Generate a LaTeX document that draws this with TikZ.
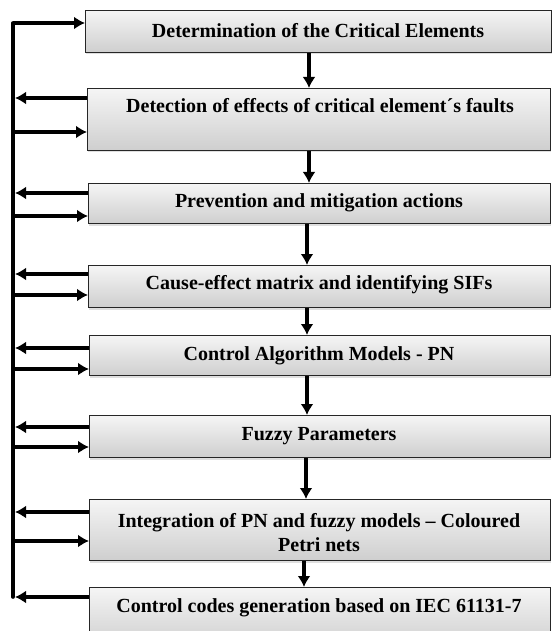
\documentclass[tikz,border=0pt]{standalone}
\usepackage{fontspec}
\setmainfont{Liberation Serif}
\usetikzlibrary{arrows.meta,shadows,calc}

\begin{document}
\begin{tikzpicture}[x=1pt,y=-1pt,
  stage/.style={draw=black!85, line width=1pt, anchor=north west,
    top color=gray!8, bottom color=gray!38, minimum width=#1,
    drop shadow={shadow xshift=0.5pt, shadow yshift=-2pt, opacity=0.25}},
  stage/.default=463pt,
  lbl/.style={font=\fontsize{20}{24}\selectfont\bfseries, align=center, inner sep=0pt},
  flow/.style={line width=3.4pt, -{Latex[length=11pt,width=13pt]}},
  bus/.style={line width=3.6pt, line join=round, line cap=round}]
\useasboundingbox (0,0) rectangle (552,631);

% stages of the procedure
\node[stage=466pt, minimum height=42pt] (b1) at (85,10) {};
\node[stage, minimum height=62pt] (b2) at (87,88) {};
\node[stage=462pt, minimum height=40pt] (b3) at (88,183) {};
\node[stage=462pt, minimum height=42pt] (b4) at (88,265) {};
\node[stage=461pt, minimum height=40pt] (b5) at (89,335) {};
\node[stage=461pt, minimum height=42pt] (b6) at (89,415) {};
\node[stage=461pt, minimum height=61pt] (b7) at (89,499) {};
\node[stage=461pt, minimum height=60pt] (b8) at (89,587) {};

% captions
\node[lbl] (t1) at (318,31) {Determination of the Critical Elements};
\node[lbl] (t2) at (320,106) {Detection of effects of critical element´s faults};
\node[lbl] (t3) at (319,203) {Prevention and mitigation actions};
\node[lbl] (t4) at (319,285) {Cause-effect matrix and identifying SIFs};
\node[lbl] (t5) at (319,356) {Control Algorithm Models - PN};
\node[lbl] (t6) at (319,436) {Fuzzy Parameters};
\node[lbl] (t7) at (319,533) {Integration of PN and fuzzy models -- Coloured\\Petri nets};
\node[lbl] (t8) at (319,608) {Control codes generation based on IEC 61131-7};

% sequence arrows between stages
\draw[flow] (b1.south -| 309,0) -- (b2.north -| 309,0);
\draw[flow] (b2.south -| 309,0) -- (b3.north -| 309,0);
\draw[flow] (b3.south -| 307,0) -- (b4.north -| 307,0);
\draw[flow] (b4.south -| 307,0) -- (b5.north -| 307,0);
\draw[flow] (b5.south -| 307,0) -- (b6.north -| 307,0);
\draw[flow] (b6.south -| 306,0) -- (b7.north -| 306,0);
\draw[flow] (b7.south -| 304,0) -- (b8.north -| 304,0);

% feedback bus on the left
\coordinate (bustop) at (13,23);
\coordinate (busbot) at (13,597);
\draw[bus] (busbot) -- (bustop);
\draw[flow] (bustop) -- (bustop -| b1.west);

\foreach \b/\o/\i in {b2/98/132, b3/193/216, b4/274/295, b5/348/369, b6/427/447, b7/512/541}{
  \draw[flow] (\b.west |- 0,\o) -- (15,\o);
  \draw[flow] (13,\i) -- (\b.west |- 0,\i);
}
\draw[flow] (b8.west |- busbot) -- ([xshift=2pt]busbot);
\end{tikzpicture}
\end{document}
